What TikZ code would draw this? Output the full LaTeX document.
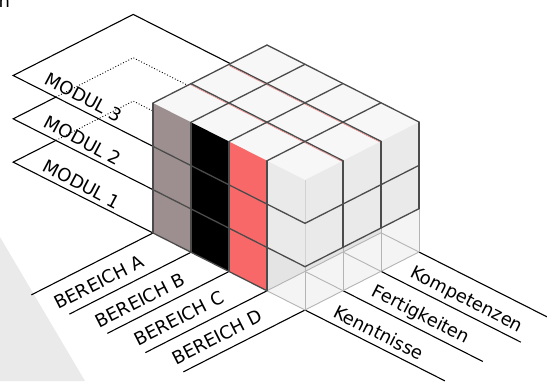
\documentclass[tikz,border=0pt]{standalone}
\usepackage{fontspec}
\setmainfont{DejaVu Sans}
\begin{document}
\begin{tikzpicture}[x=1pt,y=1pt]
\definecolor{cgray}{RGB}{157,143,143}
\definecolor{cred}{RGB}{249,104,104}
\definecolor{ctop}{RGB}{247,247,247}
\definecolor{cside}{RGB}{234,234,234}
\definecolor{cfloor}{RGB}{244,244,244}
\definecolor{cinner}{RGB}{228,228,228}
\definecolor{cdark}{RGB}{75,75,75}
\definecolor{cghost}{RGB}{180,180,180}
\definecolor{cbg}{RGB}{235,234,235}
\tikzset{
  lbl/.style={font=\fontsize{18}{21}\selectfont, inner sep=0pt},
  guide/.style={draw=black, line width=1.1pt},
  hid/.style={draw=black, line width=0.9pt, dotted},
  gridline/.style={draw=cdark, line width=1.3pt, line cap=round},
  ghostline/.style={draw=cghost, line width=0.9pt},
  pinkline/.style={draw=cred, line width=0.4pt},
}
\useasboundingbox (0,0) rectangle (547,381);
% background wedge
\fill[cbg] (0,144) -- (85,0) -- (0,0) -- cycle;
% cut-off glyph at the top left
\node[lbl, anchor=base west] (frag) at (-1.5,373) {n};

\begin{scope}[shift={(153,148)}, x={(38pt,-19.25pt)}, y={(38pt,19.33pt)}, z={(0pt,43.33pt)}]
  % ---- module planes
  \coordinate (m3a) at (0,0,2);
  \coordinate (m3b) at (-3.68,0,2);
  \coordinate (m3c) at (-3.68,3.16,2);
  \coordinate (m3d) at (-1.123,3.16,2);
  \draw[guide] (m3a) -- (m3b) -- (m3c) -- (m3d);
  \coordinate (m2a) at (0,0,1);
  \coordinate (m2b) at (-3.68,0,1);
  \coordinate (m2x) at (-3.68,1.125,1);
  \coordinate (m2c) at (-3.68,3.16,1);
  \coordinate (m2d) at (-2.246,3.16,1);
  \draw[guide] (m2a) -- (m2b) -- (m2x);
  \draw[hid] (m2x) -- (m2c) -- (m2d);
  \coordinate (m1a) at (0,0,0);
  \coordinate (m1b) at (-3.68,0,0);
  \coordinate (m1x) at (-3.68,1.125,0);
  \coordinate (m1c) at (-3.68,3.16,0);
  \coordinate (m1d) at (-3.16,3.16,0);
  \draw[guide] (m1a) -- (m1b) -- (m1x);
  \draw[hid] (m1x) -- (m1c) -- (m1d);
  % ---- guide lines for Bereich and Kenntnisse
  \foreach \i in {0,...,4}{
    \coordinate (b\i) at (\i,0,0);
    \coordinate (be\i) at (\i,-3.2,0);
    \draw[guide] (b\i) -- (be\i);
  }
  \foreach \j in {0,...,3}{
    \coordinate (k\j) at (4,\j,0);
    \coordinate (ke\j) at (7.68,\j,0);
    \draw[guide] (k\j) -- (ke\j);
  }
  % ---- cube faces
  \fill[ctop] (0,0,3) -- (4,0,3) -- (4,3,3) -- (0,3,3) -- cycle;
  \fill[cgray] (0,0,0) -- (1,0,0) -- (1,0,3) -- (0,0,3) -- cycle;
  \fill[black] (1,0,0) -- (2,0,0) -- (2,0,3) -- (1,0,3) -- cycle;
  \fill[cred] (2,0,0) -- (3,0,0) -- (3,0,3) -- (2,0,3) -- cycle;
  % ghost layer (bottom of Bereich D)
  \fill[cfloor] (3,0,0) -- (4,0,0) -- (4,3,0) -- (4,3,1) -- (4,0,1) -- (3,0,1) -- cycle;
  \fill[cinner] (3,0,0) -- (3,3,0) -- (3,3,1) -- (3,0,1) -- cycle;
  % solid light faces
  \fill[cside] (3,0,1) -- (4,0,1) -- (4,0,3) -- (3,0,3) -- cycle;
  \fill[cside] (4,0,1) -- (4,3,1) -- (4,3,3) -- (4,0,3) -- cycle;
  % ghost edges
  \draw[ghostline] (3,0,0) -- (3,3,0);
  \draw[ghostline] (3,0,0) -- (4,0,0) -- (4,3,0);
  \foreach \j in {1,2,3}{ \draw[ghostline] (3,\j,0) -- (4,\j,0); }
  \foreach \j in {0,...,3}{ \draw[ghostline] (4,\j,0) -- (4,\j,1); }
  \draw[draw=cghost!60, line width=0.6pt] (4,0,1) -- (4,0,3);
  % pink hairlines on the top face
  \foreach \j in {1,2}{ \draw[pinkline, yshift=-1.3pt] (0,\j,3) -- (4,\j,3); }
  % dark grid
  \foreach \i in {0,...,3}{
    \draw[gridline] (\i,0,3) -- (\i,3,3);
    \draw[gridline] (\i,0,0) -- (\i,0,3);
  }
  \foreach \j in {1,2,3}{
    \draw[gridline] (0,\j,3) -- (4,\j,3);
    \draw[gridline] (4,\j,1) -- (4,\j,3);
  }
  \foreach \k in {1,2}{ \draw[gridline] (0,0,\k) -- (4,0,\k) -- (4,3,\k); }
  \draw[gridline] (0,0,0) -- (3,0,0);
\end{scope}

% ---- labels
\node[lbl, rotate=-28] (mod3) at (84,284) {MODUL 3};
\node[lbl, rotate=-28] (mod2) at (83,240.5) {MODUL 2};
\node[lbl, rotate=-28] (mod1) at (82,197) {MODUL 1};
\node[lbl, rotate=27] (berA) at (99,99) {BEREICH A};
\node[lbl, rotate=27] (berB) at (140,80.5) {BEREICH B};
\node[lbl, rotate=27] (berC) at (179,62.5) {BEREICH C};
\node[lbl, rotate=27] (berD) at (217,44) {BEREICH D};
\node[lbl, rotate=-27, anchor=west] (ken) at (335,71) {Kenntnisse};
\node[lbl, rotate=-27, anchor=west] (fer) at (373,90) {Fertigkeiten};
\node[lbl, rotate=-27, anchor=west] (kom) at (411,109) {Kompetenzen};
\end{tikzpicture}
\end{document}
